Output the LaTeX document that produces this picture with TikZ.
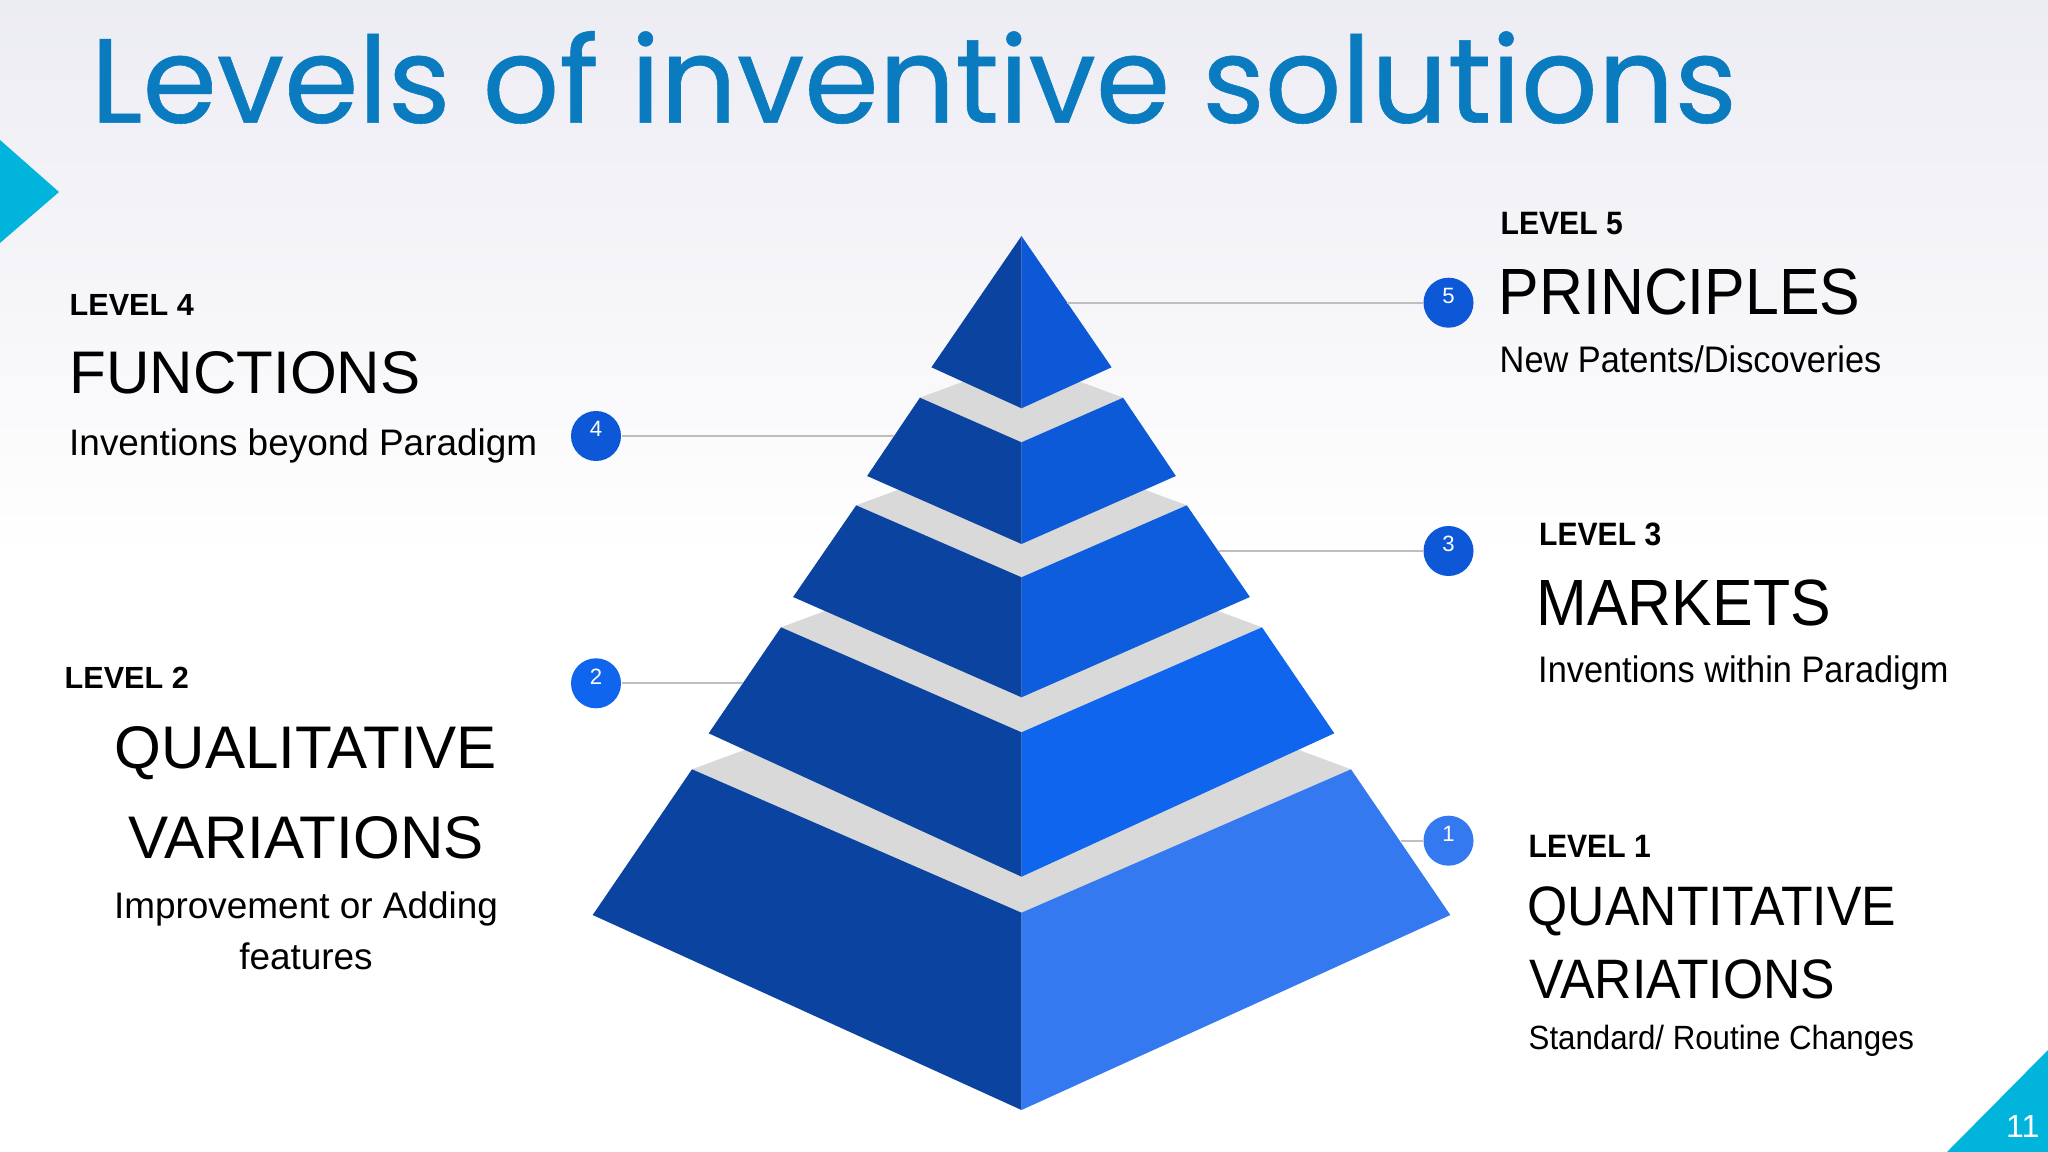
\documentclass[tikz,border=0pt]{standalone}
\usepackage{fontspec}
\setmainfont{Liberation Sans}
\newfontfamily\rightfont[FakeStretch=0.93]{Liberation Sans}
\newfontfamily\titlefont[FakeBold=0.5]{Poppins}
\usetikzlibrary{positioning}

\definecolor{titleblue}{HTML}{0B7BBF}
\definecolor{bgtop}{HTML}{ECECF3}
\definecolor{cyanmark}{HTML}{00B4DC}
\definecolor{faceleft}{HTML}{0A43A0}
\definecolor{facetop}{HTML}{D9D9D9}
\definecolor{blue5}{HTML}{0C58D6}
\definecolor{blue4}{HTML}{0D5AD8}
\definecolor{blue3}{HTML}{0E5DDC}
\definecolor{blue2}{HTML}{0F65EE}
\definecolor{blue1}{HTML}{3479F0}
\definecolor{leadergray}{HTML}{BFBFBF}

\begin{document}
\begin{tikzpicture}[
        x=0.01cm, y=-0.01cm,
        title/.style={
            anchor=base west,
            inner sep=0pt,
            text=titleblue,
            font=\titlefont\fontsize{34.1pt}{38pt}\selectfont
        },
        lvlL/.style={anchor=base west, inner sep=0pt, font=\bfseries\fontsize{8.7pt}{10pt}\selectfont},
        headL/.style={inner sep=0pt, font=\fontsize{17.1pt}{20pt}\selectfont},
        subL/.style={inner sep=0pt, font=\fontsize{10.5pt}{12pt}\selectfont},
        lvlR/.style={anchor=base west, inner sep=0pt, font=\rightfont\bfseries\fontsize{9.2pt}{11pt}\selectfont},
        headR/.style={anchor=base west, inner sep=0pt, font=\rightfont\fontsize{18.6pt}{22pt}\selectfont},
        headRs/.style={anchor=base west, inner sep=0pt, font=\rightfont\fontsize{15.8pt}{18pt}\selectfont},
        subR/.style={anchor=base west, inner sep=0pt, font=\rightfont\fontsize{10.5pt}{12pt}\selectfont},
        leftface/.style={fill=faceleft},
        topface/.style={fill=facetop},
        num/.style={
            circle,
            minimum size=0.5cm,
            inner sep=0pt,
            text=white,
            font=\fontsize{6.3pt}{7pt}\selectfont
        },
        leader/.style={draw=leadergray, line width=0.6pt}
    ]

    % Background
    \useasboundingbox (0,0) rectangle (2048,1152);
    \fill[white] (0,0) rectangle (2048,1152);
    \shade[top color=bgtop, bottom color=white] (0,0) rectangle (2048,560);
    \fill[cyanmark] (0,140) -- (59,192) -- (0,243) -- cycle;
    \fill[cyanmark] (1947,1152) -- (2048,1050) -- (2048,1152) -- cycle;

    % Title
    \node[title] (title) at (90,122.7) {Levels of inventive solutions};

    % Tier 1 (bottom)
    \fill[topface] (692,769.3) -- (1021.5,647.4) -- (1351,769.3) -- (1021.5,912.7) -- cycle;
    \fill[leftface] (692,769.3) -- (1021.5,912.7) -- (1021.5,1110) -- (592.7,915) -- cycle;
    \fill[blue1] (1351,769.3) -- (1021.5,912.7) -- (1021.5,1110) -- (1450.3,915) -- cycle;

    % Tier 2
    \fill[topface] (781,627.3) -- (1021.5,538.3) -- (1262,627.3) -- (1021.5,732.3) -- cycle;
    \fill[leftface] (781,627.3) -- (1021.5,732.3) -- (1021.5,876.7) -- (708.7,733.3) -- cycle;
    \fill[blue2] (1262,627.3) -- (1021.5,732.3) -- (1021.5,876.7) -- (1334.3,733.3) -- cycle;

    % Tier 3
    \fill[topface] (856.2,505.3) -- (1021.5,444.1) -- (1186.8,505.3) -- (1021.5,577.3) -- cycle;
    \fill[leftface] (856.2,505.3) -- (1021.5,577.3) -- (1021.5,697.3) -- (793.1,597) -- cycle;
    \fill[blue3] (1186.8,505.3) -- (1021.5,577.3) -- (1021.5,697.3) -- (1249.9,597) -- cycle;

    % Tier 4
    \fill[topface] (919.9,397.7) -- (1021.5,360.1) -- (1123.1,397.7) -- (1021.5,442.3) -- cycle;
    \fill[leftface] (919.9,397.7) -- (1021.5,442.3) -- (1021.5,544) -- (867.1,476) -- cycle;
    \fill[blue4] (1123.1,397.7) -- (1021.5,442.3) -- (1021.5,544) -- (1175.9,476) -- cycle;

    % Tier 5 (top)
    \fill[leftface] (1021.5,236) -- (1021.5,408.3) -- (931.4,367.3) -- cycle;
    \fill[blue5] (1021.5,236) -- (1021.5,408.3) -- (1111.6,367.3) -- cycle;

    % Points on the pyramid edges
    \coordinate (e5) at (1067.3,302.7);
    \coordinate (e4) at (894,436);
    \coordinate (e3) at (1218.9,551);
    \coordinate (e2) at (743,683.3);
    \coordinate (e1) at (1401.4,840.7);

    % Number markers
    \node[num, fill=blue5] (n5) at (1448.5,302.7) {\raisebox{4pt}{5}};
    \node[num, fill=blue5] (n4) at (596,436) {\raisebox{4pt}{4}};
    \node[num, fill=blue5] (n3) at (1448.5,551) {\raisebox{4pt}{3}};
    \node[num, fill=blue2] (n2) at (596,683.3) {\raisebox{4pt}{2}};
    \node[num, fill=blue1] (n1) at (1448.5,840.7) {\raisebox{4pt}{1}};

    \draw[leader] (n5) -- (e5);
    \draw[leader] (n4) -- (e4);
    \draw[leader] (n3) -- (e3);
    \draw[leader] (n2) -- (e2);
    \draw[leader] (n1) -- (e1);

    % Left texts
    \node[lvlL] (lvl4) at (69,315.8) {LEVEL 4};
    \node[headL, anchor=base west] (functions) at (69,394) {FUNCTIONS};
    \node[subL, anchor=base west] (sub4) at (68.5,455.5) {Inventions beyond Paradigm};

    \node[lvlL] (lvl2) at (64,688.6) {LEVEL 2};
    \node[headL, anchor=base] (qual) at (306,768.9) {QUALITATIVE};
    \node[headL, anchor=base] (var2) at (306,858.2) {VARIATIONS};
    \node[subL, anchor=base] (sub2a) at (306,918.5) {Improvement or Adding};
    \node[subL, anchor=base] (sub2b) at (306,969) {features};

    % Right texts
    \node[lvlR] (lvl5) at (1500,235) {LEVEL 5};
    \node[headR] (principles) at (1498,315) {PRINCIPLES};
    \node[subR] (sub5) at (1499,372.7) {New Patents/Discoveries};

    \node[lvlR] (lvl3) at (1538.5,545) {LEVEL 3};
    \node[headR] (markets) at (1536,625) {MARKETS};
    \node[subR] (sub3) at (1537.5,682.3) {Inventions within Paradigm};

    \node[lvlR] (lvl1) at (1528,857.3) {LEVEL 1};
    \node[headRs] (quant) at (1527,925) {QUANTITATIVE};
    \node[headRs] (var1) at (1529,998.3) {VARIATIONS};
    \node[subR, font=\rightfont\fontsize{9.55pt}{11pt}\selectfont] (sub1) at (1528,1049.3) {Standard/ Routine Changes};

    % Page number
    \node[anchor=base east, inner sep=0pt, text=white, font=\fontsize{9.1pt}{10pt}\selectfont] (page) at (2040,1137) {11};

\end{tikzpicture}
\end{document}
